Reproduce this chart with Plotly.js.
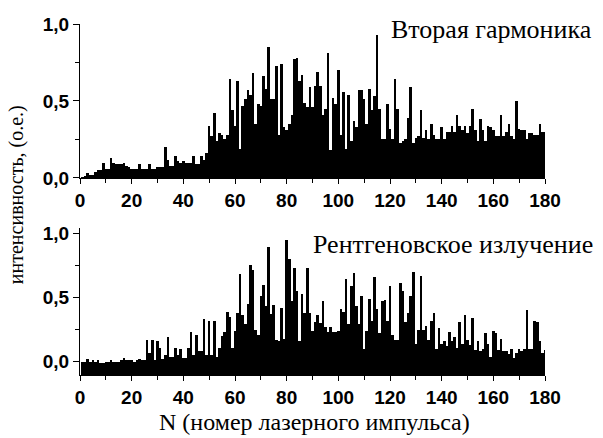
<!DOCTYPE html>
<html><head><meta charset="utf-8">
<script src="https://cdn.plot.ly/plotly-3.0.1.min.js"></script>
<style>html,body{margin:0;padding:0;background:#fff}#chart{width:603px;height:438px}</style>
</head><body><div id="chart"></div>
<script>
// Pulse numbers (categories)
const pulses = Array.from({length: 180}, (_, i) => i + 1);

// Second harmonic intensity (top panel), pulses 1..180
const secondHarmonic = [
  0.005,0.01,0.03,0.02,0.02,0.04,0.05,0.05,0.10,0.06,
  0.06,0.13,0.10,0.09,0.09,0.09,0.10,0.08,0.07,0.06,
  0.06,0.06,0.09,0.06,0.06,0.06,0.09,0.06,0.06,0.07,
  0.07,0.07,0.20,0.12,0.08,0.08,0.14,0.11,0.10,0.11,
  0.10,0.10,0.10,0.14,0.09,0.09,0.14,0.12,0.16,0.34,
  0.27,0.42,0.24,0.29,0.28,0.25,0.28,0.64,0.44,0.34,
  0.63,0.19,0.47,0.51,0.57,0.54,0.68,0.35,0.48,0.47,
  0.66,0.58,0.85,0.51,0.51,0.73,0.28,0.74,0.33,0.31,
  0.35,0.41,0.77,0.78,0.63,0.67,0.49,0.46,0.59,0.46,
  0.60,0.69,0.60,0.41,0.45,0.81,0.18,0.52,0.48,0.70,
  0.28,0.56,0.19,0.54,0.24,0.37,0.33,0.57,0.57,0.51,
  0.35,0.58,0.44,0.53,0.93,0.45,0.25,0.25,0.48,0.32,
  0.25,0.64,0.45,0.23,0.24,0.25,0.39,0.59,0.23,0.26,
  0.27,0.44,0.26,0.31,0.25,0.35,0.28,0.25,0.25,0.33,
  0.25,0.30,0.30,0.34,0.30,0.41,0.34,0.31,0.34,0.29,
  0.34,0.45,0.31,0.24,0.38,0.31,0.24,0.34,0.33,0.31,
  0.27,0.27,0.41,0.27,0.30,0.35,0.27,0.25,0.50,0.32,
  0.31,0.31,0.25,0.29,0.29,0.28,0.28,0.35,0.30,0.30
];

// X-ray intensity (bottom panel), pulses 1..180
const xray = [
  0.00,0.00,0.02,0.00,0.01,0.00,0.01,-0.01,-0.01,0.00,
  0.00,0.01,0.00,0.00,0.00,0.01,0.03,0.01,0.01,0.01,
  0.00,0.01,0.02,0.01,0.01,0.17,0.07,0.17,0.01,0.16,
  0.11,0.02,0.05,0.19,0.04,0.04,0.11,0.05,0.10,0.03,
  0.03,0.11,0.23,0.05,0.21,0.08,0.08,0.33,0.05,0.32,
  0.05,0.32,0.04,0.11,0.20,0.23,0.39,0.35,0.11,0.24,
  0.38,0.68,0.36,0.29,0.45,0.75,0.71,0.25,0.21,0.51,
  0.60,0.43,0.89,0.37,0.44,0.17,0.16,0.42,0.18,0.95,
  0.80,0.47,0.73,0.55,0.16,0.53,0.38,0.73,0.38,0.24,
  0.31,0.36,0.30,0.47,0.27,0.23,0.27,0.23,0.23,0.24,
  0.41,0.39,0.64,0.29,0.59,0.69,0.43,0.29,0.51,0.10,
  0.24,0.49,0.32,0.66,0.41,0.22,0.47,0.48,0.32,0.59,
  0.21,0.17,0.17,0.61,0.55,0.31,0.38,0.51,0.70,0.14,
  0.25,0.67,0.25,0.28,0.17,0.32,0.38,0.10,0.26,0.14,
  0.16,0.12,0.23,0.16,0.19,0.11,0.31,0.14,0.36,0.17,
  0.13,0.34,0.09,0.16,0.08,0.10,0.22,0.14,0.04,0.24,
  0.22,0.09,0.18,0.08,0.08,0.06,0.10,0.03,0.07,0.10,
  0.08,0.10,0.40,0.10,0.10,0.32,0.31,0.16,0.07,0.09
];

const xTickVals = [0,20,40,60,80,100,120,140,160,180];
const yTickVals = [0, 0.5, 1.0];
const yTickText = ['0,0','0,5','1,0'];
const topLabel = 'Вторая гармоника';
const bottomLabel = 'Рентгеновское излучение';
const yTitle = 'интенсивность, (о.е.)';
const xTitle = 'N (номер лазерного импульса)';

const topRange = [0, 1.0];
const bottomRange = [-0.104, 1.041];

const tickFont = {family: '"Liberation Sans", Arial, sans-serif', size: 19, weight: 700, color: '#000'};
const serif = '"Liberation Serif", "Times New Roman", serif';

function xAxis(anchor) {
  return {
    anchor: anchor, domain: [0, 1], range: [0, 180],
    tickmode: 'array', tickvals: xTickVals,
    ticks: 'outside', ticklen: 5, tickwidth: 1, tickcolor: '#000',
    minor: {dtick: 10, tick0: 0, ticks: 'outside', ticklen: 4, tickwidth: 1, tickcolor: '#000'},
    showline: true, linecolor: '#000', linewidth: 1,
    showgrid: false, zeroline: false, tickfont: tickFont, fixedrange: true
  };
}
function yAxis(anchor, domain, range) {
  return {
    anchor: anchor, domain: domain, range: range,
    tickmode: 'array', tickvals: yTickVals, ticktext: yTickText,
    ticks: 'outside', ticklen: 6, tickwidth: 1, tickcolor: '#000',
    minor: {dtick: 0.25, tick0: 0, ticks: 'outside', ticklen: 4, tickwidth: 1, tickcolor: '#000'},
    showline: true, linecolor: '#000', linewidth: 1,
    showgrid: false, zeroline: false, tickfont: tickFont, fixedrange: true
  };
}

const traces = [
  {type: 'bar', x: pulses, y: secondHarmonic, xaxis: 'x', yaxis: 'y',
   width: 1, marker: {color: '#000', line: {width: 0}}, hoverinfo: 'x+y'},
  {type: 'bar', x: pulses, y: xray.map(v => v - bottomRange[0]), base: bottomRange[0],
   xaxis: 'x2', yaxis: 'y2',
   width: 1, marker: {color: '#000', line: {width: 0}}, hoverinfo: 'x'}
];

const layout = {
  width: 603, height: 438,
  margin: {l: 80, r: 58, t: 24, b: 63},
  paper_bgcolor: '#fff', plot_bgcolor: '#fff',
  showlegend: false, bargap: 0,
  font: {family: serif},
  xaxis: xAxis('y'),
  yaxis: yAxis('x', [0.5613, 1], topRange),
  xaxis2: xAxis('y2'),
  yaxis2: yAxis('x2', [0, 0.4188], bottomRange),
  annotations: [
    {text: topLabel, xref: 'paper', yref: 'paper', x: 0.665, y: 0.985,
     xanchor: 'left', yanchor: 'middle', showarrow: false,
     font: {family: serif, size: 26, color: '#000'}},
    {text: bottomLabel, xref: 'paper', yref: 'paper', x: 0.497, y: 0.372,
     xanchor: 'left', yanchor: 'middle', showarrow: false,
     font: {family: serif, size: 26, color: '#000'}},
    {text: yTitle, xref: 'paper', yref: 'paper', x: -0.135, y: 0.513,
     xanchor: 'center', yanchor: 'middle', textangle: -90, showarrow: false,
     font: {family: serif, size: 20, color: '#000'}},
    {text: xTitle, xref: 'paper', yref: 'paper', x: 0.505, y: -0.134,
     xanchor: 'center', yanchor: 'middle', showarrow: false,
     font: {family: serif, size: 24, color: '#000'}}
  ]
};

Plotly.newPlot('chart', traces, layout, {displayModeBar: false, staticPlot: true});
</script>
</body></html>
